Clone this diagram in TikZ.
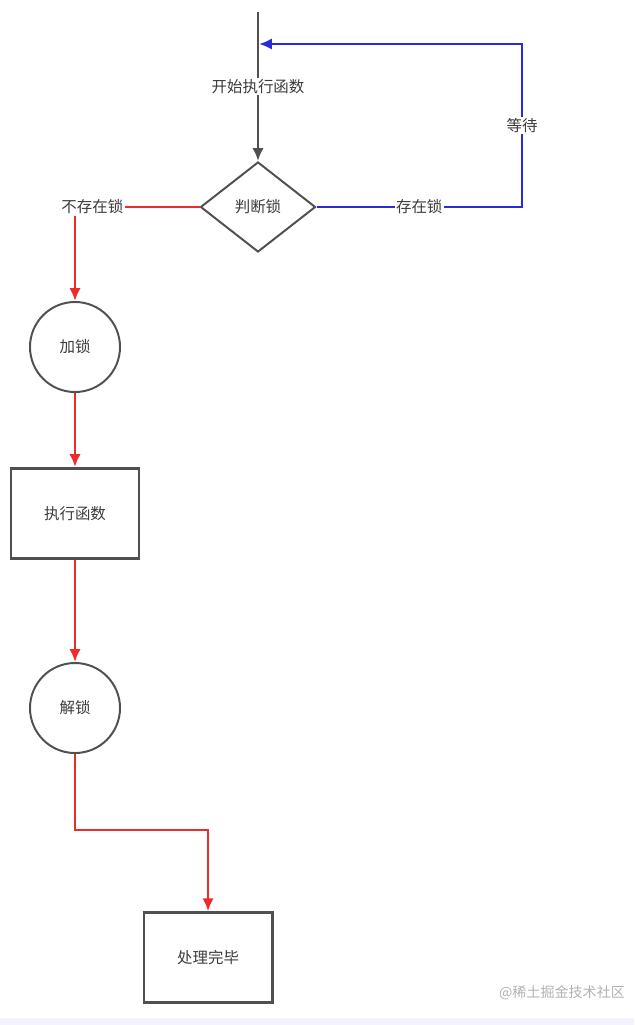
\documentclass[tikz,border=0pt]{standalone}
\usepackage{fontspec}
\newfontfamily\cjk{Noto Sans CJK SC}
\usetikzlibrary{arrows.meta, positioning, shapes.geometric}
\definecolor{grisOscuro}{HTML}{505050}
\definecolor{grisTexto}{HTML}{3C3C3C}
\definecolor{rojoFlujo}{HTML}{EC2B2B}
\definecolor{azulFlujo}{HTML}{2A2AD8}
\definecolor{lilaFranja}{HTML}{F3F2FE}
\colorlet{colBorde}{grisOscuro}
\colorlet{colMarca}{black!30}
\tikzset{
  boxBase/.style={
    draw=colBorde, line width=1.4pt,
    align=center, font=\cjk\fontsize{11}{13}\selectfont, text=grisTexto,
    fill=white, inner sep=0pt
  },
  boxRect/.style={boxBase, line width=2.1pt, minimum width=3.2cm, minimum height=2.25cm},
  boxCircle/.style={boxBase, circle, minimum size=2.25cm},
  boxDecision/.style={boxBase, diamond, aspect=1.28, minimum width=2.875cm, minimum height=2.25cm},
  arrowRed/.style={-{Latex[length=3.2mm, width=2.8mm]}, line width=1.7pt, rojoFlujo},
  arrowBlue/.style={-{Latex[length=3.2mm, width=2.8mm]}, line width=1.7pt, azulFlujo},
  arrowGray/.style={-{Latex[length=3.2mm, width=2.8mm]}, line width=1.7pt, grisOscuro},
  arrowLabel/.style={font=\cjk\fontsize{11}{13}\selectfont, text=grisTexto, fill=white, inner sep=1pt},
  watermark/.style={font=\cjk\fontsize{10}{12}\selectfont, text=colMarca},
}
\begin{document}
\begin{tikzpicture}[x=0.025cm, y=-0.025cm]
    \useasboundingbox (0,0) rectangle (634,1025);
    \fill[lilaFranja] (0,1018) rectangle (634,1025);
    % nodos
    \coordinate (start) at (258,12);
    \coordinate (wait) at (259,44);
    \coordinate (turn) at (522,207);
    \node[boxDecision] (judge) at (258,207) {判断锁};
    \node[boxCircle] (addLock) at (75,347) {加锁};
    \node[boxRect, below=1.85cm of addLock] (runFunc) {执行函数};
    \node[boxCircle, below=2.55cm of runFunc] (unlock) {解锁};
    \node[boxRect, below=3.93cm of unlock, xshift=3.325cm] (done) {处理完毕};
    \node[watermark] (mark) at (562,993) {@稀土掘金技术社区};
    % flechas
    \draw[arrowGray] (start) -- node[arrowLabel] {开始执行函数} (judge.north);
    \draw[arrowBlue] (judge.east) -- node[arrowLabel] {存在锁} (turn)
        |- node[arrowLabel, pos=0.25] {等待} (wait);
    \draw[arrowRed] (judge.west) -| node[arrowLabel, pos=0.43] {不存在锁} (addLock.north);
    \draw[arrowRed] (addLock) -- (runFunc);
    \draw[arrowRed] (runFunc) -- (unlock);
    \draw[arrowRed] (unlock.south) -- ++(0,76) -| (done.north);
\end{tikzpicture}
\end{document}
